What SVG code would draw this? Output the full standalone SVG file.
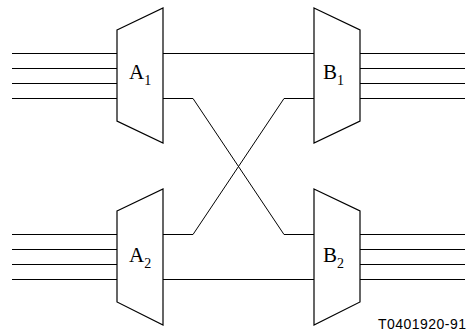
<svg xmlns="http://www.w3.org/2000/svg" width="468" height="336" viewBox="0 0 468 336">
<style>
.box{fill:#fff;stroke:#000;stroke-width:1.2}
.ln{fill:none;stroke:#000;stroke-width:1}
.lbl{font-family:"Liberation Serif","Times New Roman",serif;font-size:21px;fill:#000}
.sub{font-size:14px}
.id{font-family:"Liberation Sans",Arial,sans-serif;font-size:14px;fill:#000}
</style>
<rect width="468" height="336" fill="#fff"/>
<g id="connectors" class="ln">
<path d="M12 53.5H117M12 68.5H117M12 83.5H117M12 98.5H117"/>
<path d="M360 53.5H465M360 68.5H465M360 83.5H465M360 98.5H465"/>
<path d="M12 234.5H117M12 249.5H117M12 264.5H117M12 279.5H117"/>
<path d="M360 234.5H465M360 249.5H465M360 264.5H465M360 279.5H465"/>
<path d="M163 53.5H314"/>
<path d="M163 98.5H193L284 234.5H314"/>
<path d="M163 234.5H193L284 98.5H314"/>
<path d="M163 279.5H314"/>
</g>
<g id="A1">
<polygon class="box" points="117,30 163,8 163,143 117,121"/>
<text class="lbl" x="129" y="79">A<tspan class="sub" dy="6">1</tspan></text>
</g>
<g id="B1">
<polygon class="box" points="314,8 360,30 360,121 314,143"/>
<text class="lbl" x="323" y="79">B<tspan class="sub" dy="6">1</tspan></text>
</g>
<g id="A2">
<polygon class="box" points="117,211 163,189 163,325 117,302"/>
<text class="lbl" x="129" y="262">A<tspan class="sub" dy="6">2</tspan></text>
</g>
<g id="B2">
<polygon class="box" points="314,189 360,211 360,302 314,325"/>
<text class="lbl" x="323" y="262">B<tspan class="sub" dy="6">2</tspan></text>
</g>
<text class="id" x="466" y="329" text-anchor="end" textLength="88">T0401920-91</text>
</svg>
